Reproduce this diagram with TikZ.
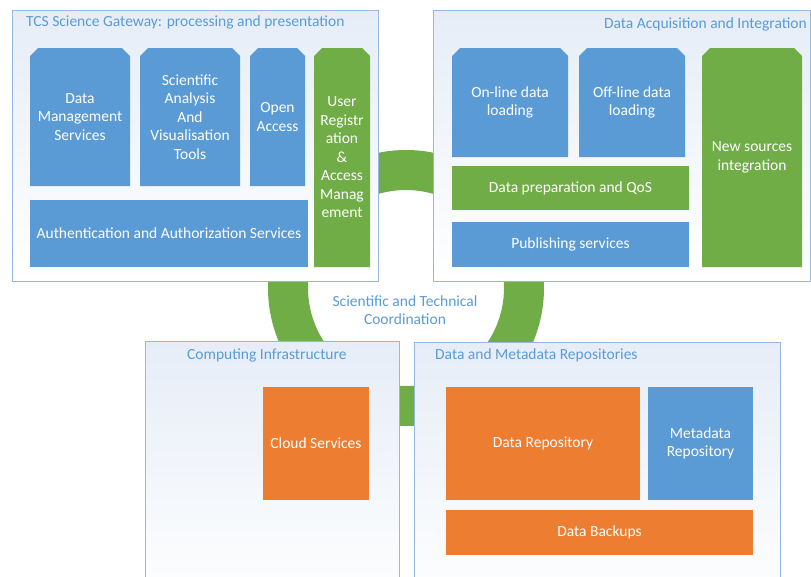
\documentclass[tikz,border=0pt]{standalone}
\usepackage{fontspec}
\setmainfont{Carlito}
\definecolor{blueC}{HTML}{5B9BD5}
\definecolor{greenC}{HTML}{70AD47}
\definecolor{orangeC}{HTML}{ED7D31}
\definecolor{titleC}{HTML}{5B9BD5}
\definecolor{borderC}{HTML}{95B8E0}
\definecolor{panelTop}{HTML}{E6EDF7}
\begin{document}
\begin{tikzpicture}[x=1pt,y=-1pt,
  blk/.style={anchor=north west, inner sep=1pt, outer sep=0pt, text=white, align=center,
    font=\fontsize{15.5}{18.5}\selectfont},
  rectblk/.style={blk, fill=#1},
  snipblk/.style={blk, path picture={\fill[#1]
      (path picture bounding box.south west) --
      ([yshift=-8pt]path picture bounding box.north west) --
      ([xshift=8pt]path picture bounding box.north west) --
      ([xshift=-8pt]path picture bounding box.north east) --
      ([yshift=-8pt]path picture bounding box.north east) --
      (path picture bounding box.south east) -- cycle;}},
  panel/.style={anchor=north west, draw=borderC, line width=0.8pt, top color=panelTop,
    bottom color=white, inner sep=0pt, outer sep=0pt},
  ttl/.style={text=titleC, inner sep=0pt, font=\fontsize{15.5}{18.5}\selectfont, align=center}
]
\useasboundingbox (0,0) rectangle (811,576);
\clip (0,0) rectangle (811,576);

% ring
\fill[greenC, even odd rule] (406,288) circle[radius=138pt] (406,288) circle[radius=98pt];

% panels
\node[panel, minimum width=366pt, minimum height=271pt] (tcs) at (12,10) {};
\node[panel, minimum width=377pt, minimum height=271pt] (dai) at (433,10) {};
\node[panel, minimum width=254pt, minimum height=270pt] (ci) at (145,341) {};
\node[panel, minimum width=366pt, minimum height=270pt] (dmr) at (414,342) {};

% titles
\node[ttl, anchor=base west] (tcsT) at (26,26.5) {TCS Science Gateway: processing and presentation};
\node[ttl, anchor=base east] (daiT) at (807,28.5) {Data Acquisition and Integration};
\node[ttl, anchor=base west] (ciT) at (187,359.5) {Computing Infrastructure};
\node[ttl, anchor=base west] (dmrT) at (435,359.5) {Data and Metadata Repositories};
\node[ttl, anchor=center] (coord) at (405,310) {Scientific and Technical\\Coordination};

% TCS blocks
\node[snipblk=blueC, minimum width=100pt, minimum height=138pt] (dms) at (30,48) {Data\\Management\\Services};
\node[snipblk=blueC, minimum width=100pt, minimum height=138pt] (sav) at (140,48) {Scientific\\Analysis\\And\\Visualisation\\Tools};
\node[snipblk=blueC, minimum width=55pt, minimum height=138pt] (oa) at (250,48) {Open\\Access};
\node[snipblk=greenC, minimum width=56pt, minimum height=219pt] (ura) at (314,48) {User\\Registr\\ation\\\&\\Access\\Manag\\ement};
\node[rectblk=blueC, minimum width=278pt, minimum height=67pt] (aas) at (30,200) {Authentication and Authorization Services};

% DAI blocks
\node[snipblk=blueC, minimum width=116pt, minimum height=109pt] (onl) at (452,48) {On-line data\\loading};
\node[snipblk=blueC, minimum width=106pt, minimum height=109pt] (offl) at (579,48) {Off-line data\\loading};
\node[rectblk=greenC, minimum width=237pt, minimum height=44pt] (dpq) at (452,166) {Data preparation and QoS};
\node[rectblk=blueC, minimum width=237pt, minimum height=45pt] (pub) at (452,222) {Publishing services};
\node[snipblk=greenC, minimum width=100pt, minimum height=219pt] (nsi) at (702,48) {New sources\\integration};

% lower blocks
\node[rectblk=orangeC, minimum width=106pt, minimum height=113pt] (cloud) at (263,387) {Cloud Services};
\node[rectblk=orangeC, minimum width=194pt, minimum height=113pt] (drep) at (446,387) {Data Repository};
\node[rectblk=blueC, minimum width=105pt, minimum height=113pt] (mrep) at (648,387) {Metadata\\Repository};
\node[rectblk=orangeC, minimum width=307pt, minimum height=45pt] (dbk) at (446,510) {Data Backups};
\end{tikzpicture}
\end{document}
